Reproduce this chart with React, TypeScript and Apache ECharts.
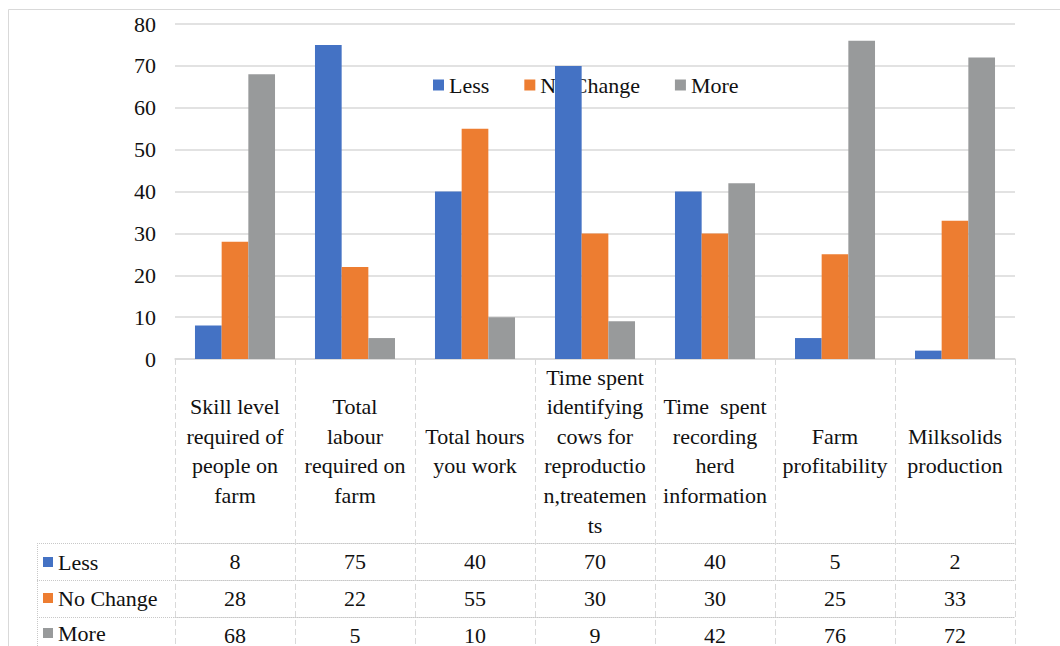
import React, { useEffect, useRef } from "react";
import * as echarts from "echarts";

const categories = [
  "Skill level\nrequired of\npeople on\nfarm",
  "Total\nlabour\nrequired on\nfarm",
  "Total hours\nyou work",
  "Time spent\nidentifying\ncows for\nreproductio\nn,treatemen\nts",
  "Time  spent\nrecording\nherd\ninformation",
  "Farm\nprofitability",
  "Milksolids\nproduction",
];
const seriesNames = ["Less", "No Change", "More"];
const lessValues = [8, 75, 40, 70, 40, 5, 2];
const noChangeValues = [28, 22, 55, 30, 30, 25, 33];
const moreValues = [68, 5, 10, 9, 42, 76, 72];
const colors = ["#4472C4", "#ED7D31", "#989A9B"];
const yMin = 0;
const yMax = 80;
const yInterval = 10;

const FONT = "Liberation Serif";
const TXT = "#111111";
const LINE = "#D9D9D9";

export default function App() {
  const ref = useRef<HTMLDivElement>(null);
  useEffect(() => {
    if (!ref.current) return;
    const chart = echarts.init(ref.current, undefined, { renderer: "svg" });
    const allValues = [lessValues, noChangeValues, moreValues];
    const gridTop = 24;
    const gridBottom = 287;
    const axisY = 646 - gridBottom; // 359
    const headerH = 184;
    const rowH = 37;

    const rowAxes = allValues.map((vals, i) => ({
      type: "category",
      position: "bottom",
      offset: headerH + i * rowH,
      data: vals.map((v) => String(v)),
      axisLine: { show: true, lineStyle: { color: "#C8C8C8", type: "dotted", width: 1 } },
      axisTick: { show: false },
      axisLabel: {
        interval: 0,
        margin: 18,
        verticalAlign: "middle",
        fontFamily: FONT,
        fontSize: 22,
        color: TXT,
      },
      splitLine: { show: false },
    }));

    const tableLines: any[] = [];
    for (let i = 0; i < 3; i++) {
      const y = axisY + headerH + i * rowH + 0.5;
      tableLines.push({
        type: "line",
        shape: { x1: 37, y1: y, x2: 175, y2: y },
        style: { stroke: "#C8C8C8", lineWidth: 1, lineDash: [1, 1] },
        silent: true,
      });
    }
    tableLines.push({
      type: "line",
      shape: { x1: 37.5, y1: axisY + headerH, x2: 37.5, y2: 700 },
      style: { stroke: "#C8C8C8", lineWidth: 1, lineDash: [1, 1] },
      silent: true,
    });
    tableLines.push({
      type: "rect",
      shape: { x: 8.5, y: 9.5, width: 1200, height: 800 },
      style: { fill: "none", stroke: LINE, lineWidth: 1 },
      silent: true,
      z: -10,
    });

    const legendText = { fontFamily: FONT, fontSize: 22, color: TXT, lineHeight: 22 };
    const rowTops = [551, 587, 622];
    const tableLegends = seriesNames.map((name, i) => ({
      data: [name],
      left: 43,
      top: rowTops[i],
      padding: 0,
      orient: "horizontal",
      icon: "rect",
      itemWidth: 10,
      itemHeight: 10,
      selectedMode: false,
      textStyle: legendText,
    }));

    chart.setOption({
      animation: false,
      backgroundColor: "#ffffff",
      color: colors,
      grid: { left: 175, right: 45, top: gridTop, bottom: gridBottom, containLabel: false },
      legend: [
        {
          data: seriesNames,
          left: 433,
          top: 74,
          padding: 0,
          orient: "horizontal",
          icon: "rect",
          itemWidth: 11,
          itemHeight: 11,
          itemGap: 35,
          selectedMode: false,
          z: 0,
          textStyle: legendText,
        },
        ...tableLegends,
      ],
      xAxis: [
        {
          type: "category",
          position: "bottom",
          data: categories,
          axisLine: { show: true, lineStyle: { color: LINE, width: 1.5 } },
          axisTick: {
            show: true,
            length: 320,
            interval: 0,
            lineStyle: { color: LINE, type: [6, 3], width: 1 },
          },
          axisLabel: {
            interval: 0,
            margin: 92,
            verticalAlign: "middle",
            fontFamily: FONT,
            fontSize: 22,
            lineHeight: 29.6,
            color: TXT,
            hideOverlap: false,
          },
          splitLine: { show: false },
        },
        ...rowAxes,
      ],
      yAxis: {
        type: "value",
        min: yMin,
        max: yMax,
        interval: yInterval,
        axisLine: { show: false },
        axisTick: { show: false },
        axisLabel: { fontFamily: FONT, fontSize: 22, color: TXT, margin: 19 },
        splitLine: { show: true, lineStyle: { color: LINE, width: 1.5 } },
      },
      series: seriesNames.map((name, i) => ({
        name,
        type: "bar",
        xAxisIndex: 0,
        data: allValues[i],
        barGap: "0%",
        barCategoryGap: "33.3%",
        z: 2,
        itemStyle: { color: colors[i] },
        emphasis: { disabled: true },
      })),
      graphic: tableLines,
    });
    return () => chart.dispose();
  }, []);
  return (
    <div
      ref={ref}
      style={{ position: "fixed", left: 0, top: 0, width: 1060, height: 646, background: "#fff" }}
    />
  );
}
